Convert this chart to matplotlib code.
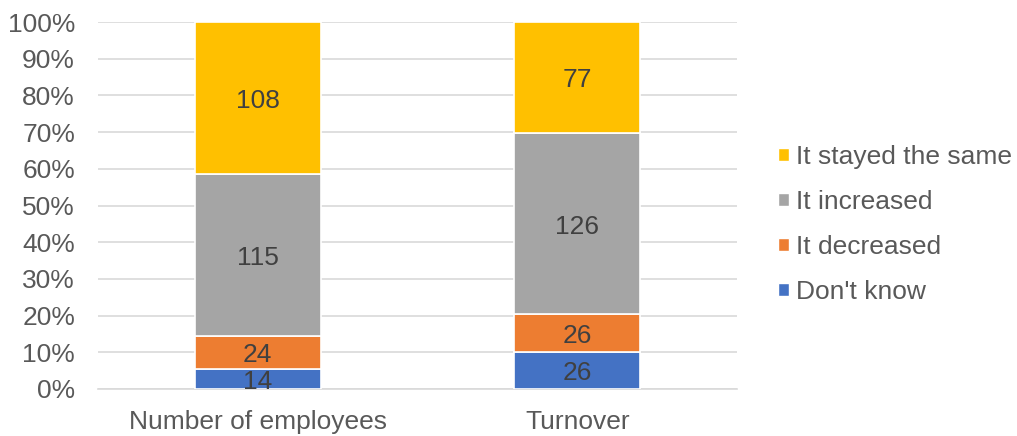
import numpy as np
import matplotlib.pyplot as plt
from matplotlib.patches import Patch
from matplotlib.ticker import PercentFormatter

plt.rcParams['font.family'] = ['Liberation Sans', 'DejaVu Sans']

categories = ['Number of employees', 'Turnover']
series = ["Don't know", 'It decreased', 'It increased', 'It stayed the same']
dont_know = [14, 26]
decreased = [24, 26]
increased = [115, 126]
stayed_same = [108, 77]
colors = ['#4472c4', '#ed7d31', '#a5a5a5', '#ffc000']

counts = np.array([dont_know, decreased, increased, stayed_same], dtype=float)
shares = counts / counts.sum(axis=0) * 100

fig = plt.figure(figsize=(10.17, 4.36), dpi=100)
ax = fig.add_axes([0.0964, 0.1078, 0.6283, 0.8417])

x = np.arange(len(categories))
bottom = np.zeros(len(categories))
for name, vals, share, col in zip(series, counts, shares, colors):
    ax.bar(x, share, 0.395, bottom=bottom, color=col,
           edgecolor='white', linewidth=1.2, label=name, zorder=3)
    for xi, b, s, v in zip(x, bottom, share, vals):
        ax.annotate(f'{int(v)}', (xi, b + s / 2), xytext=(0, -2.2),
                    textcoords='offset points', ha='center', va='center',
                    fontsize=19, color='#404040', zorder=4)
    bottom += share

ax.set_xlim(-0.5, 1.5)
ax.set_ylim(0, 100)
ax.set_yticks(np.arange(0, 101, 10))
ax.yaxis.set_major_formatter(PercentFormatter(decimals=0))
ax.set_xticks(x)
ax.set_xticklabels(categories)
ax.tick_params(axis='both', length=0, labelsize=19, labelcolor='#595959')
ax.tick_params(axis='x', pad=15)
ax.tick_params(axis='y', pad=16.5)
ax.grid(axis='y', color='#d9d9d9', linewidth=1.2, zorder=0)
for side in ['top', 'right', 'left']:
    ax.spines[side].set_visible(False)
ax.spines['bottom'].set_color('#d9d9d9')
ax.spines['bottom'].set_linewidth(1.2)

handles = [Patch(facecolor=c, edgecolor='white') for c in colors][::-1]
fig.legend(handles, series[::-1], loc='upper left', bbox_to_anchor=(0.765, 0.668),
           frameon=False, fontsize=19, labelcolor='#595959',
           handlelength=0.4, handleheight=0.4, handletextpad=0.3,
           labelspacing=0.8, borderaxespad=0, borderpad=0)

fig.savefig('out.png', dpi=100)
